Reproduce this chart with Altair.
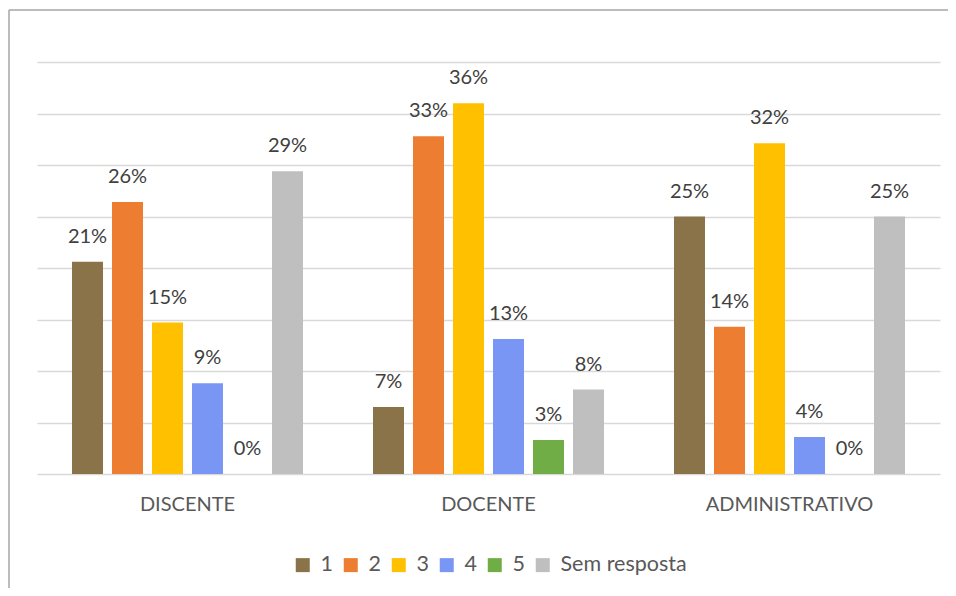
import altair as alt
import pandas as pd

groups = ["DISCENTE", "DOCENTE", "ADMINISTRATIVO"]
series = ["1", "2", "3", "4", "5", "Sem resposta"]
colors = ["#8B7349", "#ED7D31", "#FFC000", "#7A96F5", "#70AD47", "#BFBFBF"]
values = {
    "DISCENTE":       [0.206, 0.264, 0.147, 0.088, 0.0, 0.294],
    "DOCENTE":        [0.065, 0.328, 0.360, 0.131, 0.033, 0.082],
    "ADMINISTRATIVO": [0.250, 0.143, 0.321, 0.036, 0.0, 0.250],
}

rows = []
for g in groups:
    for s, v in zip(series, values[g]):
        rows.append({"grupo": g, "serie": s, "valor": v})
df = pd.DataFrame(rows)

FONT = "Lato"

x_enc = alt.X("grupo:N", sort=groups,
              scale=alt.Scale(paddingInner=0, paddingOuter=0),
              axis=alt.Axis(title=None, labelAngle=0, labelFontSize=20, labelFont=FONT,
                            labelColor="#595959", domainColor="#D9D9D9", domainWidth=1.5,
                            ticks=False, grid=False, labelPadding=20))
xo_enc = alt.XOffset("serie:N", sort=series,
                     scale=alt.Scale(paddingInner=0.225, paddingOuter=0.875))
y_enc = alt.Y("valor:Q", scale=alt.Scale(domain=[0, 0.4]),
              axis=alt.Axis(title=None, labels=False, ticks=False, domain=False,
                            values=[0.05, 0.1, 0.15, 0.2, 0.25, 0.3, 0.35, 0.4],
                            gridColor="#D9D9D9", gridWidth=1.5))

bars = alt.Chart(df).mark_bar().encode(
    x=x_enc, xOffset=xo_enc, y=y_enc,
    color=alt.Color("serie:N", sort=series,
                    scale=alt.Scale(domain=series, range=colors),
                    legend=alt.Legend(title=None, orient="none", direction="horizontal",
                                      legendX=255, legendY=492,
                                      symbolType="square", symbolSize=196,
                                      symbolStrokeWidth=0,
                                      labelFontSize=21.5, labelFont=FONT, labelColor="#595959",
                                      labelOffset=7, columnPadding=7)),
)

labels = alt.Chart(df).mark_text(baseline="alphabetic", dy=-19, fontSize=20,
                                 font=FONT, color="#404040").encode(
    x=alt.X("grupo:N", sort=groups), xOffset=alt.XOffset("serie:N", sort=series),
    y="valor:Q",
    text=alt.Text("valor:Q", format=".0%"),
)

frame = alt.Chart(alt.Data(values=[{}]))
top_line = frame.mark_rule(color="#A6A6A6", strokeWidth=1.5).encode(
    x=alt.value(-28), x2=alt.value(930), y=alt.value(-52))
left_line = frame.mark_rule(color="#A6A6A6", strokeWidth=1.5).encode(
    x=alt.value(-28), y=alt.value(-52), y2=alt.value(560))

chart = alt.layer(bars, labels, top_line, left_line).properties(
    width=903, height=412,
    padding={"left": 29, "top": 54, "right": 8, "bottom": 114},
    autosize=alt.AutoSizeParams(type="none"),
    background="white",
).configure_view(strokeWidth=0, stroke="transparent")

chart.save("out.html", embed_options={"renderer": "svg", "actions": False})
